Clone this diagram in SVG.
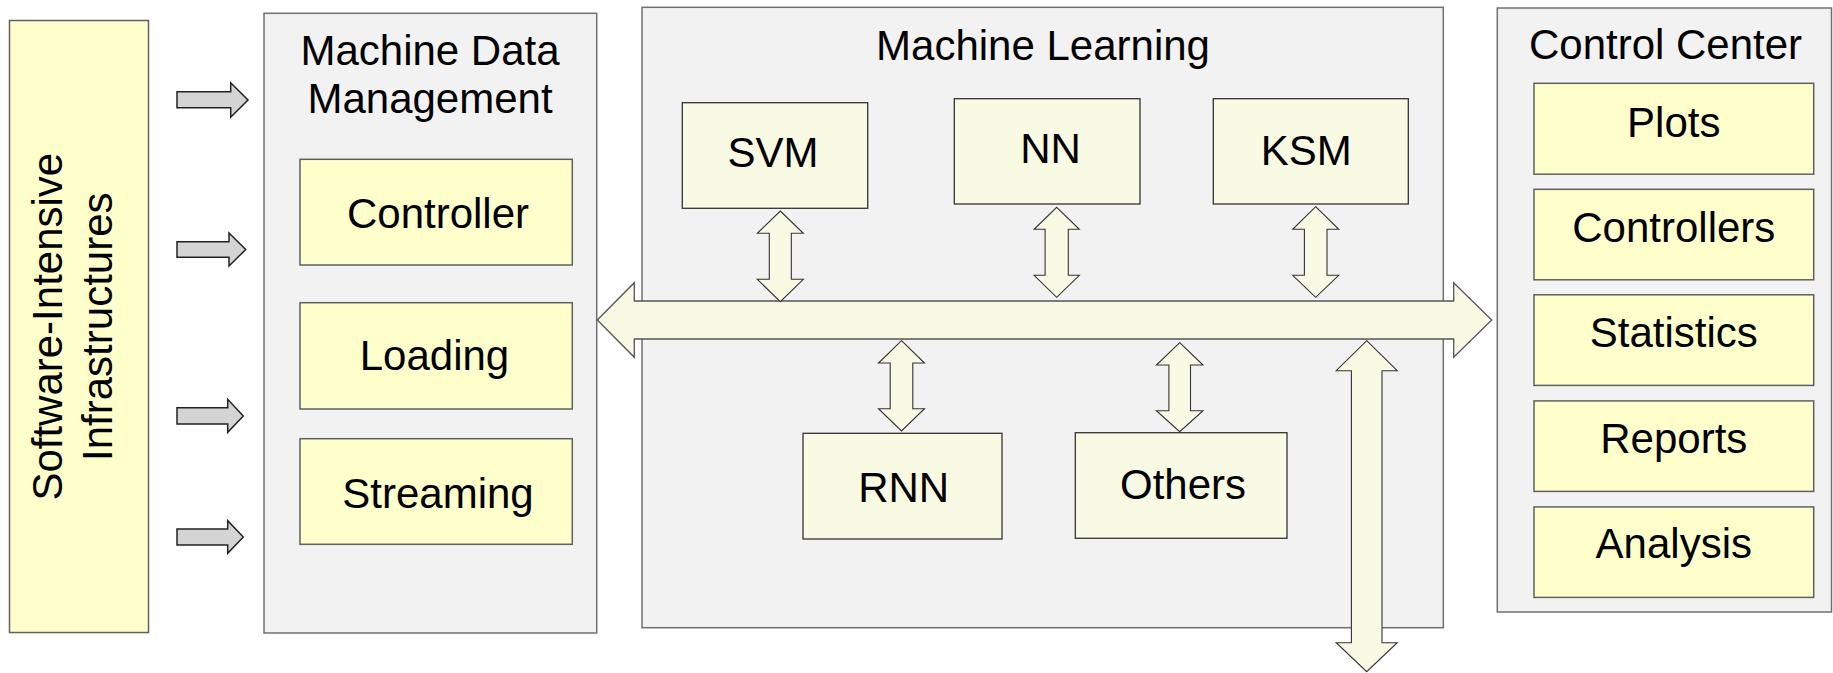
<svg xmlns="http://www.w3.org/2000/svg" width="1833" height="673" viewBox="0 0 1833 673">
<style>
  .lbl { font-family: "Liberation Sans", Arial, Helvetica, sans-serif; font-size: 42px; fill: #000; text-anchor: middle; }
  .group { fill: #f2f2f2; stroke: #707070; stroke-width: 1.5; }
  .yel { fill: #ffffcc; stroke: #606060; stroke-width: 1.5; }
  .ivory { fill: #f9fae4; stroke: #333333; stroke-width: 1.3; }
  .garrow { fill: #d4d4d4; stroke: #222222; stroke-width: 1.5; }
  .darrow { fill: #f9fae4; stroke: #333333; stroke-width: 1.1; }
  .bus { fill: #f9fae4; stroke: #555555; stroke-width: 1.3; }
</style>
<rect width="1833" height="673" fill="#ffffff"/>

<g id="software-intensive-infrastructures">
  <rect class="yel" x="9.5" y="20.5" width="139" height="612"/>
  <text class="lbl" transform="translate(61.5,326.7) rotate(-90)">Software-Intensive</text>
  <text class="lbl" transform="translate(111.5,326.7) rotate(-90)">Infrastructures</text>
</g>

<g id="machine-data-management">
  <rect class="group" x="264" y="13.3" width="332.7" height="619.7"/>
  <text class="lbl" x="430" y="65">Machine Data</text>
  <text class="lbl" x="430" y="113">Management</text>
</g>
<g id="controller">
  <rect class="yel" x="300" y="159.3" width="272.3" height="105.7"/>
  <text class="lbl" x="438" y="228.3">Controller</text>
</g>
<g id="loading">
  <rect class="yel" x="300" y="302.7" width="272.3" height="106.3"/>
  <text class="lbl" x="434.5" y="369.7">Loading</text>
</g>
<g id="streaming">
  <rect class="yel" x="300" y="438.7" width="272.3" height="105.6"/>
  <text class="lbl" x="438" y="508">Streaming</text>
</g>

<g id="machine-learning">
  <rect class="group" x="642" y="7.3" width="801.3" height="620.4"/>
  <text class="lbl" x="1043" y="60">Machine Learning</text>
</g>
<g id="svm">
  <rect class="ivory" x="682.3" y="102.7" width="185.4" height="105.6"/>
  <text class="lbl" x="773" y="166.7">SVM</text>
</g>
<g id="nn">
  <rect class="ivory" x="954.3" y="98.7" width="185.7" height="105.3"/>
  <text class="lbl" x="1050.5" y="163.3">NN</text>
</g>
<g id="ksm">
  <rect class="ivory" x="1213.3" y="98.7" width="195" height="105.3"/>
  <text class="lbl" x="1306.3" y="165">KSM</text>
</g>
<g id="rnn">
  <rect class="ivory" x="803" y="433.3" width="199" height="105.7"/>
  <text class="lbl" x="903.7" y="501.7">RNN</text>
</g>
<g id="others">
  <rect class="ivory" x="1075.3" y="432.7" width="211.7" height="105.6"/>
  <text class="lbl" x="1183" y="499.3">Others</text>
</g>

<g id="control-center">
  <rect class="group" x="1497.3" y="8" width="334.2" height="604"/>
  <text class="lbl" x="1665.5" y="58.8">Control Center</text>
</g>
<g id="plots">
  <rect class="yel" x="1534" y="83.3" width="279.7" height="90.9"/>
  <text class="lbl" x="1673.8" y="136.5">Plots</text>
</g>
<g id="controllers">
  <rect class="yel" x="1534" y="189.3" width="279.7" height="90.5"/>
  <text class="lbl" x="1673.8" y="241.6">Controllers</text>
</g>
<g id="statistics">
  <rect class="yel" x="1534" y="294.8" width="279.7" height="90.6"/>
  <text class="lbl" x="1673.8" y="346.8">Statistics</text>
</g>
<g id="reports">
  <rect class="yel" x="1534" y="400.9" width="279.7" height="90.5"/>
  <text class="lbl" x="1673.8" y="452.8">Reports</text>
</g>
<g id="analysis">
  <rect class="yel" x="1534" y="506.9" width="279.7" height="90.5"/>
  <text class="lbl" x="1673.8" y="558">Analysis</text>
</g>

<g id="connectors">
  <!-- input arrows -->
  <path class="garrow" d="M177,91.7 H230.7 V82.7 L248,100 L230.7,117.3 V107.7 H177 Z"/>
  <path class="garrow" d="M177,241.7 H229 V233 L245.7,249.5 L229,266 V257.3 H177 Z"/>
  <path class="garrow" d="M177,407.7 H227.7 V399.3 L243.3,416 L227.7,432.3 V424 H177 Z"/>
  <path class="garrow" d="M177,529 H227.7 V520.7 L243.3,537 L227.7,553.3 V545 H177 Z"/>
  <!-- bus -->
  <path class="bus" d="M597.3,320 L634.3,282.7 V301 H1453.7 V282.7 L1491.7,320 L1453.7,357.3 V339 H634.3 V357.3 Z"/>
  <!-- vertical double arrows -->
  <path class="darrow" d="M780.3,211 L803.3,233.3 H791.3 V279.3 H803.3 L780.3,301.7 L757.3,279.3 H769.3 V233.3 H757.3 Z"/>
  <path class="darrow" d="M1056.7,207.3 L1079.3,229.3 H1068.3 V275.3 H1079.3 L1056.7,297.3 L1034.1,275.3 H1045.1 V229.3 H1034.1 Z"/>
  <path class="darrow" d="M1315.7,206.7 L1338.7,229.3 H1327 V275.3 H1338.7 L1315.7,297.3 L1292.7,275.3 H1304.4 V229.3 H1292.7 Z"/>
  <path class="darrow" d="M901.5,340.7 L924.5,363 H912.8 V408.7 H924.5 L901.5,431 L878.5,408.7 H890.2 V363 H878.5 Z"/>
  <path class="darrow" d="M1179.7,342.7 L1203,365 H1190.5 V410.7 H1203 L1179.7,431.7 L1156.4,410.7 H1168.9 V365 H1156.4 Z"/>
  <path class="darrow" d="M1366.7,340.7 L1397.2,370.7 H1382 V642.7 H1397.2 L1366.7,671.7 L1336.2,642.7 H1351.4 V370.7 H1336.2 Z"/>
</g>
</svg>
